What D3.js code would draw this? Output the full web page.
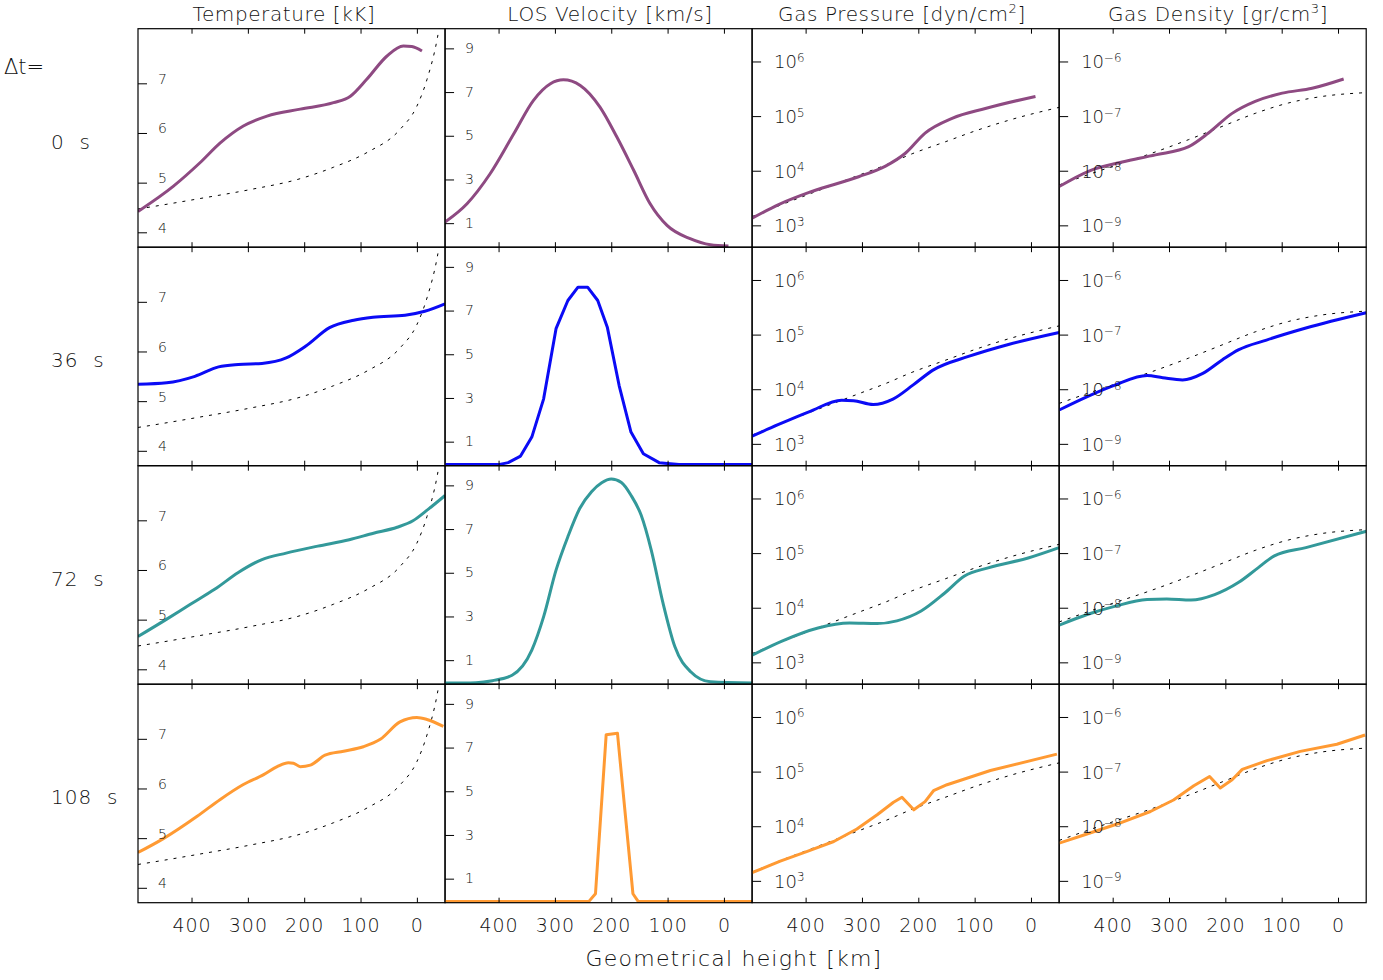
<!DOCTYPE html>
<html>
<head>
<meta charset="utf-8">
<script src="https://cdn.jsdelivr.net/npm/d3@7"></script>
<style>
  body { margin: 0; background: #fff; }
  text { font-family: 'DejaVu Sans', sans-serif; font-weight: 200; fill: #111; }
</style>
</head>
<body>
<script>
// ticks / labels
const heightTicks = [400, 300, 200, 100, 0]
const tempTicks = [4, 5, 6, 7]
const velTicks = [1, 3, 5, 7, 9]
const presTicks = [1e3, 1e4, 1e5, 1e6]
const densTicks = [1e-9, 1e-8, 1e-7, 1e-6]
const timeLabels = ['0', '36', '72', '108']
const rowColors = ['#8e4a82', '#0b0bf5', '#33999a', '#ff9a33']

// reference model (dotted), [height km, value]; pressure and density as log10
const refTemp = [[495, 4.47], [473, 4.51], [385, 4.68], [296, 4.86], [207, 5.08], [148, 5.31], [88, 5.61], [30, 6.07], [0, 6.54], [-18, 7.08], [-36, 7.89], [-45, 8.5]]
const refPres = [[495, 3.16], [457, 3.32], [389, 3.59], [300, 3.94], [259, 4.10], [211, 4.31], [152, 4.53], [93, 4.75], [34, 4.94], [-50, 5.16]]
const refDens = [[495, -8.26], [440, -8.06], [400, -7.92], [339, -7.71], [265, -7.43], [206, -7.19], [147, -6.95], [88, -6.76], [28, -6.64], [-50, -6.57]]

// dt = 0 s
const temp0 = [[495, 4.42], [432, 4.93], [385, 5.40], [349, 5.80], [308, 6.14], [266, 6.34], [207, 6.48], [148, 6.61], [118, 6.74], [89, 7.08], [53, 7.55], [24, 7.75], [9, 7.74], [-9, 7.65]]
const vel0 = [[495, 1.05], [456, 1.89], [415, 3.26], [373, 5.09], [338, 6.62], [308, 7.38], [285, 7.56], [255, 7.30], [220, 6.31], [190, 4.94], [160, 3.41], [131, 1.89], [101, 0.90], [60, 0.29], [24, 0.01], [-8, -0.05]]
const pres0 = [[495, 3.13], [448, 3.38], [389, 3.62], [306, 3.89], [259, 4.08], [223, 4.32], [188, 4.69], [140, 4.96], [81, 5.14], [-8, 5.36]]
const dens0 = [[495, -8.29], [443, -8.01], [383, -7.84], [324, -7.71], [265, -7.56], [230, -7.31], [188, -6.95], [147, -6.73], [99, -6.58], [46, -6.49], [-10, -6.32]]

// dt = 36 s
const temp36 = [[495, 5.34], [444, 5.37], [394, 5.50], [352, 5.69], [317, 5.74], [275, 5.76], [232, 5.87], [197, 6.11], [155, 6.48], [112, 6.63], [78, 6.69], [21, 6.73], [-14, 6.81], [-50, 6.96]]
const vel36 = [[495, -0.05], [400, -0.05], [383, 0.04], [361, 0.34], [341, 1.21], [320, 2.96], [298, 6.17], [277, 7.46], [259, 8.07], [242, 8.07], [224, 7.46], [207, 6.24], [186, 3.57], [165, 1.44], [143, 0.45], [115, 0.04], [80, -0.05], [-50, -0.05]]
const pres36 = [[495, 3.14], [449, 3.35], [393, 3.59], [336, 3.80], [315, 3.79], [280, 3.72], [245, 3.82], [209, 4.08], [174, 4.35], [111, 4.60], [40, 4.82], [-50, 5.04]]
const dens36 = [[495, -8.38], [444, -8.13], [395, -7.92], [339, -7.75], [311, -7.79], [276, -7.83], [240, -7.71], [205, -7.46], [177, -7.28], [127, -7.10], [57, -6.88], [-50, -6.60]]

// dt = 72 s
const temp72 = [[495, 4.66], [444, 5.01], [402, 5.31], [359, 5.61], [317, 5.95], [275, 6.21], [232, 6.34], [176, 6.48], [120, 6.61], [77, 6.74], [35, 6.86], [7, 6.99], [-21, 7.23], [-50, 7.50]]
const vel72 = [[495, -0.05], [440, -0.03], [411, 0.06], [376, 0.31], [341, 1.46], [320, 2.99], [298, 5.12], [277, 6.65], [256, 7.94], [235, 8.71], [217, 9.12], [200, 9.29], [182, 9.13], [165, 8.55], [147, 7.64], [129, 6.04], [108, 3.60], [87, 1.61], [59, 0.47], [24, 0.01], [-50, -0.05]]
const pres72 = [[495, 3.13], [442, 3.39], [378, 3.63], [322, 3.72], [273, 3.71], [238, 3.76], [195, 3.94], [153, 4.27], [118, 4.58], [76, 4.73], [5, 4.91], [-50, 5.10]]
const dens72 = [[495, -8.32], [444, -8.12], [395, -7.97], [339, -7.85], [304, -7.84], [261, -7.86], [219, -7.76], [177, -7.54], [142, -7.27], [113, -7.05], [57, -6.90], [-50, -6.60]]

// dt = 108 s
const temp108 = [[495, 4.71], [450, 4.99], [390, 5.44], [349, 5.78], [308, 6.08], [272, 6.28], [248, 6.44], [228, 6.52], [219, 6.51], [207, 6.44], [189, 6.47], [163, 6.67], [130, 6.75], [95, 6.84], [65, 6.99], [30, 7.34], [0, 7.43], [-18, 7.39], [-47, 7.25]]
const vel108 = [[495, -0.05], [240, -0.05], [228, 0.31], [209, 7.59], [189, 7.66], [161.5, 0.31], [152, -0.05], [-50, -0.05]]
const pres108 = [[495, 3.15], [445, 3.36], [397, 3.54], [350, 3.72], [309, 3.95], [273, 4.21], [244, 4.44], [229, 4.53], [208, 4.30], [188, 4.45], [173, 4.65], [149, 4.76], [72, 5.02], [-46, 5.32]]
const dens108 = [[495, -8.31], [451, -8.16], [392, -7.96], [333, -7.73], [292, -7.52], [256, -7.26], [228, -7.09], [209, -7.30], [188, -7.15], [170, -6.96], [126, -6.80], [67, -6.63], [2, -6.50], [-48, -6.33]]


// mise en page
let gridLeft = 138, gridTop = 28.7
let pw = 307.05, ph = 218.5

let svg = d3.select("body").append("svg")
    .attr("width", 1383)
    .attr("height", 980)

let x = d3.scaleLinear().domain([495, -50]).range([0, pw])
let yT = d3.scaleLinear().domain([3.7, 8.1]).range([ph, 0])
let yV = d3.scaleLinear().domain([-0.1, 9.9]).range([ph, 0])
let yP = d3.scaleLog().domain([10 ** 2.6, 10 ** 6.6]).range([ph, 0])
let yD = d3.scaleLog().domain([10 ** -9.4, 10 ** -5.4]).range([ph, 0])

let smooth = d3.curveMonotoneX
let sharp = d3.curveLinear

let columns = [
    { y: yT, ticks: tempTicks, log: false, ref: refTemp, series: [temp0, temp36, temp72, temp108], curves: [smooth, smooth, smooth, smooth], pad: 11, fs: 14, dy: "0em" },
    { y: yV, ticks: velTicks, log: false, ref: null, series: [vel0, vel36, vel72, vel108], curves: [smooth, sharp, smooth, sharp], pad: 11, fs: 14, dy: "0.3em" },
    { y: yP, ticks: presTicks, log: true, ref: refPres, series: [pres0, pres36, pres72, pres108], curves: [smooth, smooth, smooth, sharp], pad: 13, fs: 18, dy: "0.36em" },
    { y: yD, ticks: densTicks, log: true, ref: refDens, series: [dens0, dens36, dens72, dens108], curves: [smooth, smooth, smooth, sharp], pad: 13, fs: 18, dy: "0.36em" }
]

// titres des colonnes
let titles = [
    { x: 284, parts: [["Temperature [kK]"]] },
    { x: 610, parts: [["LOS Velocity [km/s]"]] },
    { x: 902, parts: [["Gas Pressure [dyn/cm"], ["2", "sup"], ["]"]] },
    { x: 1218, parts: [["Gas Density [gr/cm"], ["3", "sup"], ["]"]] }
]
titles.forEach(t => {
    let txt = svg.append("text")
        .attr("x", t.x)
        .attr("y", 21)
        .attr("text-anchor", "middle")
        .attr("font-size", 20)
        .attr("letter-spacing", 0.6)
    t.parts.forEach((p, i) => {
        if (p[1] == "sup") {
            txt.append("tspan").attr("dy", -8).attr("font-size", 13).text(p[0])
        } else {
            txt.append("tspan").attr("dy", i > 0 ? 8 : 0).text(p[0])
        }
    })
})

// étiquettes des lignes
svg.append("text")
    .attr("x", 4).attr("y", 74)
    .attr("font-size", 21)
    .text("\u0394t=")

timeLabels.forEach((t, r) => {
    svg.append("text")
        .attr("x", 51)
        .attr("y", gridTop + r * ph + 120)
        .attr("font-size", 20)
        .attr("letter-spacing", 1)
        .style("white-space", "pre")
        .text(t + "  s")
})

let line = (acc, curve, log) => d3.line()
    .x(d => x(d[0]))
    .y(d => acc(log ? 10 ** d[1] : d[1]))
    .curve(curve)

function logLabels(g) {
    g.selectAll(".tick text").each(function (d) {
        let e = Math.round(Math.log10(d))
        let t = d3.select(this).text(null)
        t.append("tspan").text("10")
        t.append("tspan").attr("dy", "-0.55em").attr("font-size", "0.66em")
            .text(e < 0 ? "\u2212" + (-e) : e)
    })
}

// panneaux
for (let r = 0; r < 4; r++) {
    columns.forEach((col, c) => {
        let g = svg.append("g")
            .attr("transform", "translate(" + (gridLeft + c * pw) + "," + (gridTop + r * ph) + ")")

        let clipId = "clip" + r + c
        g.append("clipPath").attr("id", clipId)
            .append("rect").attr("width", pw).attr("height", ph)

        let plot = g.append("g").attr("clip-path", "url(#" + clipId + ")")

        if (col.ref) {
            plot.append("path")
                .attr("d", line(col.y, smooth, col.log)(col.ref))
                .attr("fill", "none")
                .attr("stroke", "#000")
                .attr("stroke-width", 1)
                .attr("stroke-dasharray", "3,6")
        }
        plot.append("path")
            .attr("d", line(col.y, col.curves[r], col.log)(col.series[r]))
            .attr("fill", "none")
            .attr("stroke", rowColors[r])
            .attr("stroke-width", 3)
            .attr("stroke-linejoin", "round")

        // axe y (graduations vers l'intérieur)
        let yAxis = d3.axisRight(col.y)
            .tickValues(col.ticks)
            .tickSize(9)
            .tickPadding(col.pad)
        if (!col.log) yAxis.tickFormat(d3.format("d"))
        let ya = g.append("g").call(yAxis)
        ya.select(".domain").remove()
        ya.selectAll("text")
            .attr("font-size", col.fs)
            .attr("font-family", null)
            .attr("dy", col.dy)
        if (col.log) logLabels(ya)

        // axes x haut et bas
        let xt = g.append("g")
            .call(d3.axisBottom(x).tickValues(heightTicks).tickSize(5).tickFormat(""))
        xt.select(".domain").remove()
        let xb = g.append("g")
            .attr("transform", "translate(0," + ph + ")")
            .call(d3.axisTop(x).tickValues(heightTicks).tickSize(5).tickFormat(""))
        xb.select(".domain").remove()

        if (r == 3) {
            let xl = g.append("g")
                .attr("transform", "translate(0," + ph + ")")
                .call(d3.axisBottom(x).tickValues(heightTicks).tickSize(0).tickPadding(16))
            xl.select(".domain").remove()
            xl.selectAll("text")
                .attr("font-size", 19)
                .attr("font-family", null)
                .attr("letter-spacing", 1)
        }

        g.append("rect")
            .attr("width", pw).attr("height", ph)
            .attr("fill", "none")
            .attr("stroke", "#000")
            .attr("stroke-width", 1.2)
    })
}

svg.append("text")
    .attr("x", 734)
    .attr("y", 966)
    .attr("text-anchor", "middle")
    .attr("font-size", 22)
    .attr("letter-spacing", 1.2)
    .text("Geometrical height [km]")
</script>
</body>
</html>
